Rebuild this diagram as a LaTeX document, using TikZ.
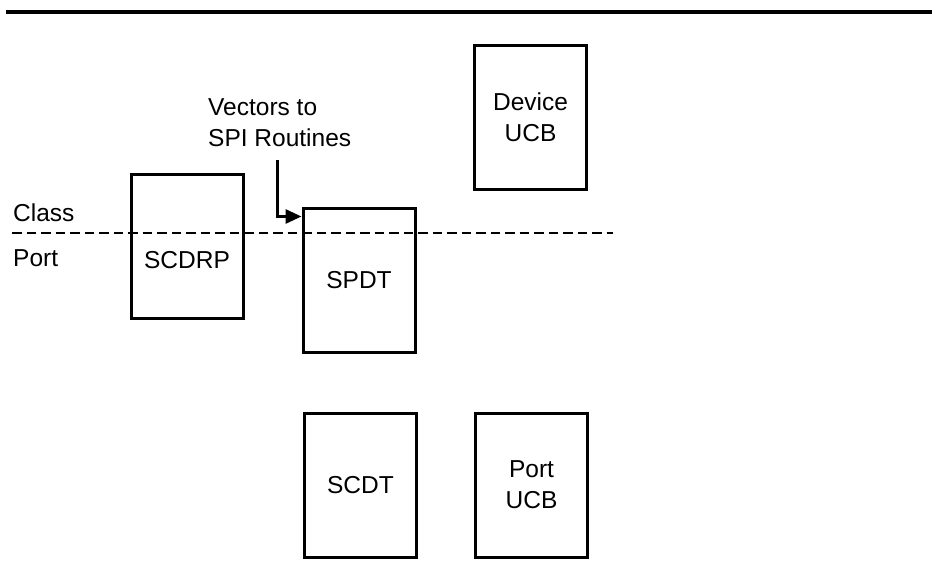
\documentclass[tikz,border=0pt]{standalone}
\usepackage{fontspec}
\setmainfont{Liberation Sans}
\usetikzlibrary{arrows.meta,calc}
\begin{document}
\begin{tikzpicture}[x=1pt,y=-1pt,
  blk/.style={draw=black,line width=3pt,minimum width=112pt,minimum height=144pt,inner sep=0pt,align=center,font=\fontsize{24.5}{31}\selectfont},
  lbl/.style={inner sep=0pt,font=\fontsize{24.5}{31}\selectfont},
  conn/.style={line width=3pt,-{Triangle[length=16pt,width=14pt]}}]
\useasboundingbox (0,0) rectangle (932,565);
\coordinate (topl) at (6,12);
\coordinate (topr) at (932,12);
\draw[line width=4pt] (topl) -- (topr);
\coordinate (dl) at (12,233);
\coordinate (dr) at (613,233);
\draw[line width=2.8pt,dash pattern=on 9.5pt off 5pt] (dl) -- (dr);
\node[lbl,anchor=west] (class) at (13,213) {Class};
\node[lbl,anchor=west] (port) at (13,258) {Port};
\node[blk] (scdrp) at (187,246) {};
\node[lbl] (scdrptxt) at (187,260) {SCDRP};
\node[blk] (spdt) at (359,280) {SPDT};
\node[blk] (dev) at (530.5,117.5) {Device\\UCB};
\node[blk] (scdt) at (360.5,485) {SCDT};
\node[blk] (pucb) at (531.5,485) {Port\\UCB};
\node[lbl,anchor=west,align=left] (vec) at (208,122.5) {Vectors to\\SPI Routines};
\coordinate (vtop) at (277,160);
\draw[conn] (vtop) |- ($(spdt.north west)+(0,10)$);
\end{tikzpicture}
\end{document}
